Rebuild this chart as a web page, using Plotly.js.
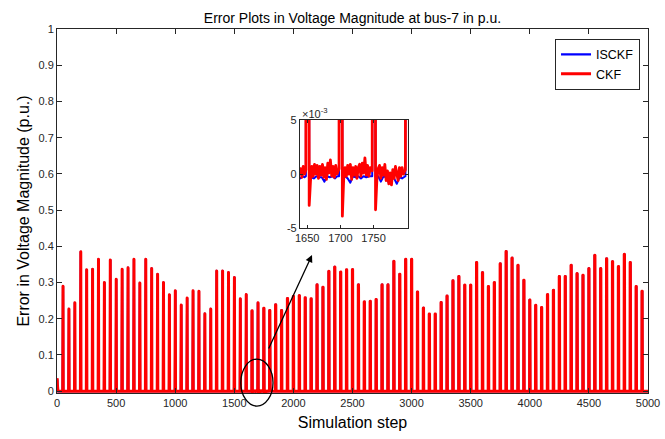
<!DOCTYPE html>
<html>
<head>
<meta charset="utf-8">
<script src="https://cdn.plot.ly/plotly-3.0.1.min.js"></script>
<style>
  html, body { margin: 0; padding: 0; background: #fff; }
  #chart { width: 665px; height: 439px; }
  #chart .scatterlayer path.js-line { stroke-linejoin: round; }
</style>
</head>
<body>
<div id="chart"></div>
<script>
// ---------------- data ----------------
// steps at which the periodic error spikes occur
const spikeSteps = [50,100,150,200,250,300,350,400,450,500,550,600,650,700,750,800,850,900,950,1000,
  1050,1100,1150,1200,1250,1300,1350,1400,1450,1500,1550,1600,1650,1700,1750,1800,1850,1900,1950,2000,
  2050,2100,2150,2200,2250,2300,2350,2400,2450,2500,2550,2600,2650,2700,2750,2800,2850,2900,2950,3000,
  3050,3100,3150,3200,3250,3300,3350,3400,3450,3500,3550,3600,3650,3700,3750,3800,3850,3900,3950,4000,
  4050,4100,4150,4200,4250,4300,4350,4400,4450,4500,4550,4600,4650,4700,4750,4800,4850,4900,4950];
// spike heights (p.u.)
const spikeHeights = [0.290,0.227,0.244,0.385,0.335,0.337,0.364,0.300,0.362,0.309,
  0.337,0.341,0.364,0.299,0.364,0.339,0.323,0.300,0.266,0.277,
  0.238,0.257,0.277,0.276,0.214,0.227,0.332,0.332,0.328,0.314,
  0.255,0.267,0.222,0.244,0.229,0.223,0.239,0.223,0.256,0.262,
  0.264,0.258,0.255,0.294,0.287,0.331,0.343,0.329,0.335,0.336,
  0.294,0.247,0.248,0.253,0.294,0.294,0.359,0.323,0.364,0.364,
  0.274,0.230,0.213,0.213,0.245,0.263,0.305,0.317,0.293,0.293,
  0.355,0.328,0.289,0.300,0.352,0.386,0.368,0.348,0.306,0.252,
  0.237,0.231,0.267,0.279,0.317,0.317,0.348,0.325,0.320,0.339,
  0.375,0.339,0.366,0.358,0.344,0.378,0.355,0.289,0.276];
// start-up transient (p.u.)
const transientSteps = [0, 2, 4, 6, 8];
const transientCKF   = [0.036, 0.032, 0.015, 0.002, 0.0005];
const transientISCKF = [0.034, 0.030, 0.013, 0.001, -0.0003];
const baselineLevel = 0;     // error level between spikes on the full-scale view
const finalStep = 5000;

// detailed values in the zoomed window (units of 1e-3 p.u.)
const detailStepsCKF = [1640,1642,1644,1646,1648,1653,1655,1657,1659,1661,1663,1665,1667,1669,1671,1673,1675,1677,1679,1681,
  1683,1685,1687,1689,1691,1693,1695,1698,1703,1705,1707,1709,1711,1713,1715,1717,1719,1721,1723,1725,
  1727,1729,1731,1733,1735,1737,1739,1741,1743,1745,1748,1753,1755,1757,1759,1761,1763,1765,1767,1769,
  1771,1773,1775,1777,1779,1781,1783,1785,1787,1789,1791,1793,1795,1798,1804];
const detailCKF = [0.5,-0.3,0.7,0.0,0.4,-2.9,-0.6,0.7,-0.2,0.9,0.0,0.8,-0.4,0.7,-0.1,0.9,-0.3,0.6,-0.5,1.0,
  0.1,1.3,-0.2,0.7,-0.3,0.8,0.0,0.5,-3.9,-0.4,0.6,-0.2,0.8,0.0,0.9,-0.5,0.6,-0.1,0.7,-0.4,
  0.6,0.9,-0.2,1.0,0.1,1.5,-0.1,0.8,-0.2,0.6,0.3,-3.3,-0.5,0.5,0.8,-0.4,0.6,-0.1,0.9,-0.6,
  0.3,-0.9,0.1,-1.0,0.4,-0.4,0.7,-0.1,-0.6,0.6,-0.2,0.6,0.0,0.4,0.2];
const detailStepsISCKF = [1640,1643,1646,1648,1653,1656,1660,1664,1668,1672,1676,1680,1684,1688,1692,1695,1698,
  1703,1707,1711,1715,1719,1723,1727,1731,1735,1739,1743,1748,
  1753,1757,1761,1765,1769,1773,1777,1781,1785,1789,1793,1798,1804];
const detailISCKF = [-0.4,-0.2,-0.3,-0.2,-0.4,-0.3,-0.4,-0.2,-0.3,-0.3,-0.7,-0.2,-0.3,-0.2,-0.4,-0.2,-0.2,
  -0.3,-0.2,-0.4,-0.8,-0.2,-0.3,-0.2,-0.4,-0.2,-0.3,-0.2,-0.2,
  -0.3,-0.2,-0.7,-0.2,-0.3,-0.8,-0.3,-0.4,-0.9,-0.3,-0.4,-0.2,-0.1];
const detailScale = 1e-3;

// ---------------- build the series ----------------
function buildSeries(tSteps, tVals, dSteps, dVals) {
  const pts = [];
  for (let k = 0; k < tSteps.length; k++) pts.push([tSteps[k], tVals[k]]);
  const dMin = dSteps[0], dMax = dSteps[dSteps.length - 1];
  for (let k = 0; k < dSteps.length; k++) pts.push([dSteps[k], dVals[k] * detailScale]);
  for (let k = 0; k < spikeSteps.length; k++) {
    const s = spikeSteps[k], h = spikeHeights[k];
    const inDetail = s >= dMin && s <= dMax;
    if (!inDetail) pts.push([s - 2, baselineLevel]);
    pts.push([s - 1, h]);
    pts.push([s + 1, h]);
    if (!inDetail) pts.push([s + 3, baselineLevel]);
  }
  pts.push([finalStep, baselineLevel]);
  pts.sort((a, b) => a[0] - b[0]);
  return { x: pts.map(p => p[0]), y: pts.map(p => p[1]) };
}
const ckf = buildSeries(transientSteps, transientCKF, detailStepsCKF, detailCKF);
const isckf = buildSeries(transientSteps, transientISCKF, detailStepsISCKF, detailISCKF);

const BLUE = '#0000ff', RED = '#ff0000', AX = '#262626';
const FONT = 'Liberation Sans, Arial, Helvetica, sans-serif';

const traces = [
  { x: isckf.x, y: isckf.y, type: 'scatter', mode: 'lines', name: 'ISCKF',
    line: { color: BLUE, width: 2.2 }, xaxis: 'x', yaxis: 'y' },
  { x: ckf.x, y: ckf.y, type: 'scatter', mode: 'lines', name: 'CKF',
    line: { color: RED, width: 3 }, xaxis: 'x', yaxis: 'y' },
  { x: isckf.x, y: isckf.y, type: 'scatter', mode: 'lines', name: 'ISCKF',
    line: { color: BLUE, width: 2 }, xaxis: 'x2', yaxis: 'y2', showlegend: false },
  { x: ckf.x, y: ckf.y, type: 'scatter', mode: 'lines', name: 'CKF',
    line: { color: RED, width: 2.8 }, xaxis: 'x2', yaxis: 'y2', showlegend: false }
];

const axCommon = {
  showline: true, linecolor: AX, linewidth: 1, mirror: 'ticks',
  ticks: 'inside', tickcolor: AX, tickwidth: 1,
  showgrid: false, zeroline: false,
  tickfont: { family: FONT, size: 11, color: '#262626' }
};

const layout = {
  width: 665, height: 439,
  margin: { l: 57, r: 17, t: 29, b: 46, pad: 0 },
  paper_bgcolor: '#fff', plot_bgcolor: '#fff',
  font: { family: FONT, color: '#000' },
  title: { text: 'Error Plots in Voltage Magnitude at bus-7 in p.u.',
           font: { family: FONT, size: 14, color: '#000' },
           x: 0.53, xanchor: 'center', y: 0.958, yanchor: 'middle' },
  xaxis: Object.assign({}, axCommon, {
    domain: [0, 1], anchor: 'y', range: [0, 5000], tickmode: 'linear', tick0: 0, dtick: 500,
    ticklen: 5, automargin: false,
    title: { text: 'Simulation step', font: { family: FONT, size: 16, color: '#000' }, standoff: 8 }
  }),
  yaxis: Object.assign({}, axCommon, {
    domain: [0, 1], anchor: 'x', range: [-0.005, 1], tickmode: 'linear', tick0: 0, dtick: 0.1,
    ticklen: 5, automargin: false,
    title: { text: 'Error in Voltage Magnitude (p.u.)', font: { family: FONT, size: 16, color: '#000' }, standoff: 4 }
  }),
  xaxis2: Object.assign({}, axCommon, {
    domain: [0.411, 0.594], anchor: 'y2', range: [1639, 1802],
    tickmode: 'array', tickvals: [1650, 1700, 1750], ticklen: 3, automargin: false
  }),
  yaxis2: Object.assign({}, axCommon, {
    domain: [0.453, 0.75], anchor: 'x2', range: [-0.005, 0.005],
    tickmode: 'array', tickvals: [-0.005, 0, 0.005], ticktext: ['-5', '0', '5'],
    ticklen: 3, automargin: false
  }),
  showlegend: true,
  legend: {
    x: 0.9865, xanchor: 'right', y: 0.973, yanchor: 'top',
    bgcolor: '#fff', bordercolor: AX, borderwidth: 1,
    font: { family: FONT, size: 12.5, color: '#000' },
    tracegroupgap: 0, itemwidth: 30
  },
  shapes: [
    { type: 'circle', xref: 'paper', yref: 'paper', x0: 0.311, x1: 0.3655, y0: -0.036, y1: 0.093,
      line: { color: '#000', width: 1.3 }, fillcolor: 'rgba(0,0,0,0)' }
  ],
  annotations: [
    { xref: 'paper', yref: 'paper', x: 0.4315, y: 0.379, ax: -44, ay: 95,
      text: '', showarrow: true, arrowhead: 2, arrowsize: 1.1, arrowwidth: 1.3,
      arrowcolor: '#000', standoff: 0 },
    { xref: 'paper', yref: 'paper', x: 0.412, y: 0.768, xanchor: 'left', yanchor: 'middle',
      text: '×10<sup>-3</sup>', showarrow: false,
      font: { family: FONT, size: 11, color: '#262626' } }
  ]
};

Plotly.newPlot('chart', traces, layout, { displayModeBar: false, staticPlot: true });
</script>
</body>
</html>
